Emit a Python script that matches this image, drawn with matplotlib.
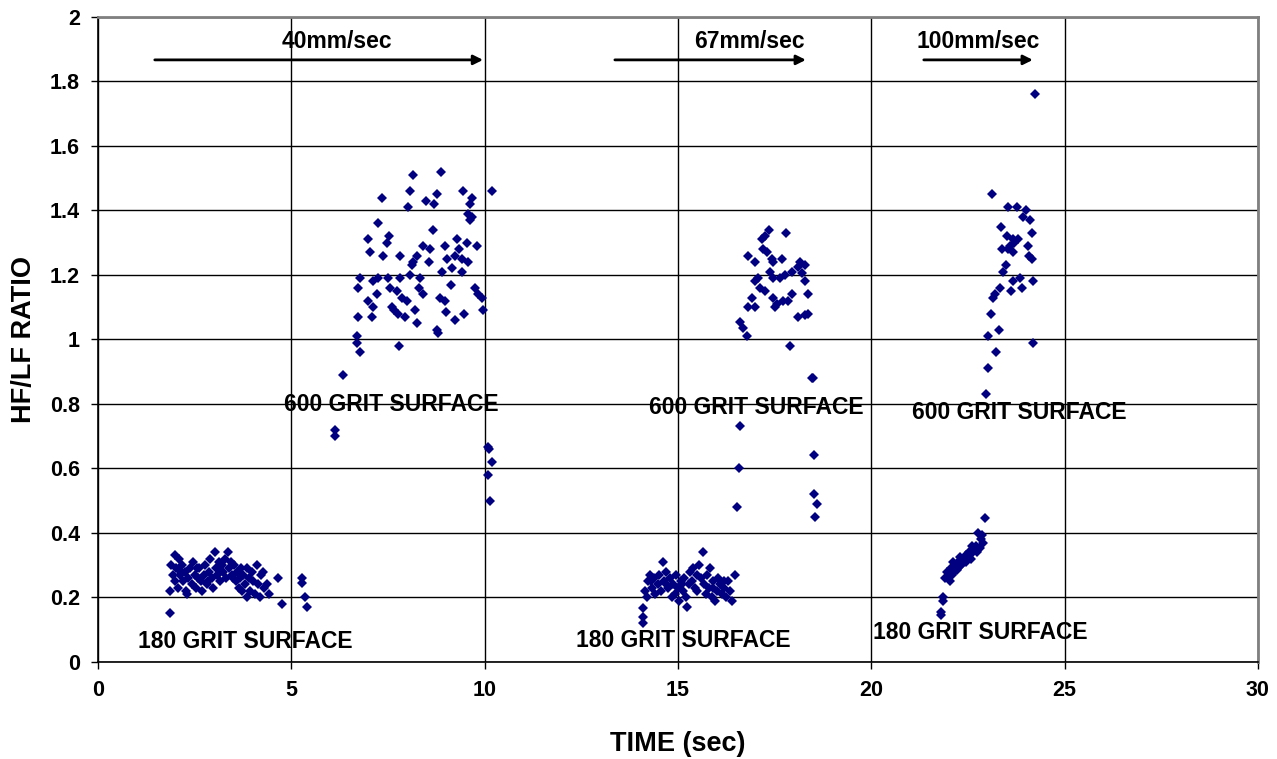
import matplotlib
matplotlib.use("Agg")
import matplotlib.pyplot as plt
import matplotlib.ticker as ticker

plt.rcParams["font.family"] = ["Liberation Sans", "DejaVu Sans"]
plt.rcParams["font.weight"] = "bold"

# ── data ──────────────────────────────────────────────────────────────────────
# 180 grit, 40 mm/sec
t_180_40 = [1.86, 1.86, 1.90, 1.93, 1.99, 2.00, 2.03, 2.07, 2.10, 2.12, 2.15, 2.17, 2.20,
            2.24, 2.28, 2.30, 2.33, 2.38, 2.42, 2.46, 2.50, 2.54, 2.55, 2.58, 2.62, 2.66,
            2.70, 2.74, 2.78, 2.82, 2.85, 2.86, 2.90, 2.94, 2.98, 3.03, 3.05, 3.08, 3.12,
            3.15, 3.16, 3.20, 3.24, 3.28, 3.32, 3.36, 3.40, 3.44, 3.48, 3.50, 3.52, 3.56,
            3.60, 3.64, 3.68, 3.70, 3.72, 3.76, 3.80, 3.85, 3.85, 3.90, 3.94, 3.98, 4.02,
            4.06, 4.11, 4.15, 4.19, 4.22, 4.27, 4.30, 4.37, 4.42, 4.65, 4.76, 5.27, 5.27,
            5.35, 5.40]
r_180_40 = [0.15, 0.22, 0.30, 0.27, 0.33, 0.25, 0.29, 0.23, 0.32, 0.27, 0.28, 0.30, 0.25,
            0.28, 0.22, 0.21, 0.26, 0.29, 0.24, 0.31, 0.27, 0.23, 0.29, 0.26, 0.29, 0.25,
            0.22, 0.27, 0.30, 0.24, 0.25, 0.28, 0.32, 0.26, 0.23, 0.34, 0.29, 0.27, 0.31,
            0.28, 0.25, 0.30, 0.28, 0.32, 0.26, 0.34, 0.29, 0.31, 0.27, 0.26, 0.30, 0.25,
            0.28, 0.23, 0.26, 0.29, 0.22, 0.27, 0.24, 0.29, 0.20, 0.26, 0.22, 0.28, 0.25,
            0.21, 0.30, 0.24, 0.20, 0.27, 0.28, 0.23, 0.24, 0.21, 0.26, 0.18, 0.26, 0.245,
            0.20, 0.17]

# 600 grit, 40 mm/sec
t_600_40 = [8.15, 8.87, 7.34, 8.07, 8.48, 8.77, 8.69, 8.02, 9.44, 9.67, 9.62, 9.57, 9.67,
            9.62, 10.19, 7.24, 8.66, 7.53, 6.98, 7.47, 7.03, 7.37, 7.81, 8.40, 8.59, 8.25,
            8.15, 8.12, 8.56, 8.97, 9.28, 9.54, 9.80, 9.02, 9.23, 9.41, 9.57, 9.15, 9.41,
            6.78, 6.72, 7.11, 7.24, 7.50, 7.81, 8.07, 8.33, 7.55, 7.73, 6.98, 7.21, 7.11,
            7.86, 7.99, 7.60, 7.76, 8.20, 8.40, 8.84, 8.97, 9.13, 9.00, 9.46, 9.75, 9.83,
            9.93, 9.96, 6.72, 7.09, 8.25, 9.23, 8.77, 8.79, 6.70, 6.70, 6.78, 7.78, 6.34,
            6.13, 6.13, 10.09, 10.12, 10.19, 10.09, 10.14, 7.65, 7.95, 8.30, 8.90, 9.35]
r_600_40 = [1.51, 1.52, 1.44, 1.46, 1.43, 1.45, 1.42, 1.41, 1.46, 1.44, 1.42, 1.39, 1.38,
            1.37, 1.46, 1.36, 1.34, 1.32, 1.31, 1.30, 1.27, 1.26, 1.26, 1.29, 1.28, 1.26,
            1.24, 1.23, 1.24, 1.29, 1.31, 1.30, 1.29, 1.25, 1.26, 1.25, 1.24, 1.22, 1.21,
            1.19, 1.16, 1.18, 1.19, 1.19, 1.19, 1.20, 1.19, 1.16, 1.15, 1.12, 1.14, 1.10,
            1.13, 1.12, 1.10, 1.08, 1.09, 1.14, 1.13, 1.12, 1.17, 1.085, 1.08, 1.16, 1.14,
            1.13, 1.09, 1.07, 1.07, 1.05, 1.06, 1.03, 1.02, 1.01, 0.99, 0.96, 0.98, 0.89,
            0.72, 0.70, 0.667, 0.66, 0.62, 0.58, 0.50, 1.09, 1.07, 1.16, 1.21, 1.28]

# 180 grit, 67 mm/sec
t_180_67 = [14.09, 14.09, 14.09, 14.15, 14.20, 14.22, 14.27, 14.32, 14.38, 14.42, 14.48,
            14.52, 14.56, 14.61, 14.65, 14.70, 14.75, 14.80, 14.84, 14.88, 14.92, 14.96,
            15.00, 15.04, 15.08, 15.12, 15.16, 15.20, 15.23, 15.28, 15.32, 15.36, 15.40,
            15.45, 15.50, 15.55, 15.60, 15.65, 15.68, 15.72, 15.76, 15.80, 15.83, 15.88,
            15.92, 15.96, 16.00, 16.05, 16.10, 16.15, 16.20, 16.25, 16.30, 16.35, 16.40,
            16.47, 14.30, 14.70, 15.10, 15.50, 15.90, 16.20]
r_180_67 = [0.12, 0.14, 0.167, 0.22, 0.20, 0.25, 0.27, 0.23, 0.26, 0.21, 0.24,
            0.27, 0.22, 0.31, 0.25, 0.28, 0.23, 0.26, 0.20, 0.24, 0.21, 0.27,
            0.23, 0.19, 0.25, 0.22, 0.26, 0.20, 0.17, 0.24, 0.28, 0.25, 0.29,
            0.23, 0.27, 0.30, 0.26, 0.34, 0.24, 0.21, 0.27, 0.23, 0.29, 0.20,
            0.25, 0.19, 0.22, 0.26, 0.24, 0.21, 0.23, 0.20, 0.25, 0.22, 0.19,
            0.27, 0.25, 0.24, 0.24, 0.22, 0.23, 0.25]

# 600 grit, 67 mm/sec
t_600_67 = [17.35, 17.25, 17.17, 17.79, 16.81, 17.20, 17.30, 17.43, 17.46, 17.69, 16.99,
            18.15, 18.28, 18.10, 17.38, 17.95, 17.77, 17.64, 17.46, 18.20, 17.07, 16.99,
            18.28, 17.12, 17.25, 18.36, 16.91, 17.46, 17.95, 17.56, 17.72, 17.84, 16.81,
            16.99, 17.51, 18.10, 18.28, 18.36, 16.60, 16.68, 16.78, 17.89, 18.46, 18.50,
            16.60, 18.52, 16.58, 18.52, 18.59, 16.52, 18.54]
r_600_67 = [1.34, 1.32, 1.31, 1.33, 1.26, 1.28, 1.27, 1.25, 1.24, 1.25, 1.24,
            1.24, 1.23, 1.225, 1.21, 1.21, 1.20, 1.19, 1.19, 1.205, 1.19, 1.18,
            1.18, 1.16, 1.15, 1.14, 1.13, 1.13, 1.14, 1.11, 1.12, 1.12, 1.10,
            1.10, 1.10, 1.07, 1.075, 1.08, 1.055, 1.035, 1.01, 0.98, 0.88, 0.88,
            0.73, 0.64, 0.60, 0.52, 0.49, 0.48, 0.45]

# 180 grit, 100 mm/sec
t_180_100 = [21.80, 21.80, 21.85, 21.85, 21.90, 21.96, 22.00, 22.03, 22.06, 22.10, 22.11,
             22.14, 22.18, 22.21, 22.24, 22.25, 22.29, 22.32, 22.37, 22.40, 22.44, 22.45,
             22.50, 22.54, 22.58, 22.60, 22.63, 22.66, 22.70, 22.74, 22.76, 22.81, 22.84,
             22.86, 22.89, 22.94]
r_180_100 = [0.146, 0.155, 0.19, 0.20, 0.26, 0.28, 0.27, 0.25, 0.29, 0.27, 0.31,
             0.28, 0.30, 0.285, 0.31, 0.29, 0.326, 0.30, 0.307, 0.32, 0.31, 0.33,
             0.33, 0.34, 0.32, 0.36, 0.34, 0.35, 0.36, 0.34, 0.40, 0.354, 0.38,
             0.394, 0.37, 0.447]

# 600 grit, 100 mm/sec
t_600_100 = [23.12, 23.53, 23.76, 24.00, 23.92, 24.10, 23.35, 24.15, 23.51, 23.66, 23.79,
             23.38, 23.58, 23.66, 24.05, 24.08, 24.15, 23.48, 23.40, 23.84, 23.66, 24.18,
             23.89, 23.61, 23.33, 23.20, 23.15, 23.09, 23.30, 23.01, 24.18, 23.22, 23.01,
             22.98, 24.23, 23.70, 23.55]
r_600_100 = [1.45, 1.41, 1.41, 1.40, 1.38, 1.37, 1.35, 1.33, 1.32, 1.31, 1.31,
             1.28, 1.29, 1.27, 1.29, 1.26, 1.25, 1.23, 1.21, 1.19, 1.18, 1.18,
             1.16, 1.15, 1.16, 1.14, 1.13, 1.08, 1.03, 1.01, 0.99, 0.96, 0.91,
             0.83, 1.76, 1.30, 1.28]

series = [(t_180_40, r_180_40), (t_600_40, r_600_40),
          (t_180_67, r_180_67), (t_600_67, r_600_67),
          (t_180_100, r_180_100), (t_600_100, r_600_100)]

speed_labels = ["40mm/sec", "67mm/sec", "100mm/sec"]
speed_text_x = [6.18, 16.86, 22.76]
speed_arrow = [(1.47, 9.96), (13.37, 18.31), (21.36, 24.18)]

surf_600_xy = [(7.58, 0.797), (17.02, 0.79), (23.84, 0.772)]
surf_180_xy = [(3.80, 0.062), (15.13, 0.065), (22.81, 0.09)]

# ── figure ───────────────────────────────────────────────────────────────────
fig = plt.figure(figsize=(12.77, 7.59), dpi=100)
ax = fig.add_axes([0.0767, 0.128, 0.9083, 0.8496])

ax.set_xlim(0, 30)
ax.set_ylim(0, 2)

for t, r in series:
    ax.plot(t, r, ls="none", marker="D", ms=5.5, color="#000080",
            markeredgewidth=0, zorder=3)

# grid
ax.set_xticks([0, 5, 10, 15, 20, 25, 30])
ax.set_yticks([i * 0.2 for i in range(11)])
ax.yaxis.set_major_formatter(ticker.FuncFormatter(lambda v, p: f"{v:g}"))
ax.grid(True, color="black", linewidth=1.0, zorder=1)
ax.set_axisbelow(True)

for side in ["top", "right"]:
    ax.spines[side].set_color("#808080")
    ax.spines[side].set_linewidth(2)
for side in ["left", "bottom"]:
    ax.spines[side].set_color("black")
    ax.spines[side].set_linewidth(1.2)

ax.tick_params(direction="out", length=5, width=1, color="black",
               labelsize=15.5, pad=8)
for lab in ax.get_xticklabels() + ax.get_yticklabels():
    lab.set_fontweight("bold")

ax.set_xlabel("TIME (sec)", fontsize=19.5, fontweight="bold", labelpad=22)
ax.set_ylabel("HF/LF RATIO", fontsize=19.5, fontweight="bold", labelpad=9)

# speed annotations with arrows
for lab, tx, (x0, x1) in zip(speed_labels, speed_text_x, speed_arrow):
    ax.text(tx, 1.925, lab, ha="center", va="center", fontsize=16.5, fontweight="bold")
    ax.annotate("", xy=(x1, 1.867), xytext=(x0, 1.867),
                arrowprops=dict(arrowstyle="-|>", color="black", lw=2,
                                mutation_scale=14, shrinkA=0, shrinkB=0))

for x, y in surf_600_xy:
    ax.text(x, y, "600 GRIT SURFACE", ha="center", va="center",
            fontsize=16.5, fontweight="bold", zorder=4)
for x, y in surf_180_xy:
    ax.text(x, y, "180 GRIT SURFACE", ha="center", va="center",
            fontsize=16.5, fontweight="bold", zorder=4)

fig.savefig("out.png", dpi=100)
